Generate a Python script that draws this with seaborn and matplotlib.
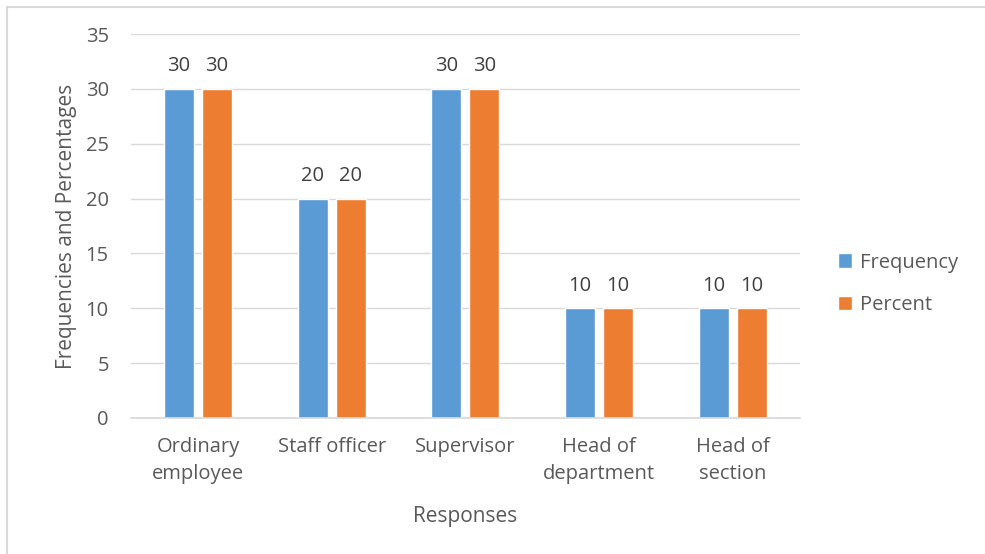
import matplotlib
matplotlib.use("Agg")
import matplotlib.pyplot as plt
from matplotlib.lines import Line2D
import pandas as pd
import seaborn as sns

categories = ["Ordinary\nemployee", "Staff officer", "Supervisor", "Head of\ndepartment", "Head of\nsection"]
frequency = [30, 20, 30, 10, 10]
percent = [30, 20, 30, 10, 10]
series = ["Frequency", "Percent"]
colors = ["#5B9BD5", "#ED7D31"]

df = pd.DataFrame({
    "Responses": categories * 2,
    "value": frequency + percent,
    "series": [series[0]] * len(categories) + [series[1]] * len(categories),
})

sns.set_theme(style="white")
plt.rcParams["font.family"] = ["Open Sans", "DejaVu Sans"]
grey = "#595959"

fig = plt.figure(figsize=(9.85, 5.54), dpi=100)
ax = fig.add_axes([0.133, 0.2455, 0.679, 0.6931])

sns.barplot(data=df, x="Responses", y="value", hue="series", palette=colors,
            width=0.567, gap=0.21, saturation=1, ax=ax, zorder=2)

for c in ax.containers:
    ax.bar_label(c, padding=9, fontsize=14.5, color="#404040")

ax.set_ylim(0, 35)
ax.set_yticks(range(0, 36, 5))
ax.set_xlim(-0.5, 4.5)
ax.yaxis.grid(True, color="#D9D9D9", linewidth=1, zorder=0)
ax.set_axisbelow(True)
for s in ["top", "right", "left"]:
    ax.spines[s].set_visible(False)
ax.spines["bottom"].set_color("#D9D9D9")
ax.tick_params(axis="both", length=0, labelsize=14.5, labelcolor=grey)
ax.tick_params(axis="y", pad=16)
ax.tick_params(axis="x", pad=14)
ax.set_xlabel("Responses", fontsize=15, color=grey, labelpad=16)
ax.set_ylabel("Frequencies and Percentages", fontsize=15, color=grey, labelpad=6)
for lab in ax.get_xticklabels():
    lab.set_linespacing(1.45)

leg = ax.legend(loc="center left", bbox_to_anchor=(1.03, 0.35), frameon=False,
                fontsize=14.5, handlelength=0.7, handleheight=0.7,
                labelspacing=1.1, handletextpad=0.4)
for t in leg.get_texts():
    t.set_color(grey)

fig.add_artist(Line2D([7 / 985, 7 / 985], [0, 1 - 7 / 554], color="#D9D9D9", lw=1.5))
fig.add_artist(Line2D([7 / 985, 1], [1 - 7 / 554, 1 - 7 / 554], color="#D9D9D9", lw=1.5))

fig.savefig("out.png", dpi=100)
